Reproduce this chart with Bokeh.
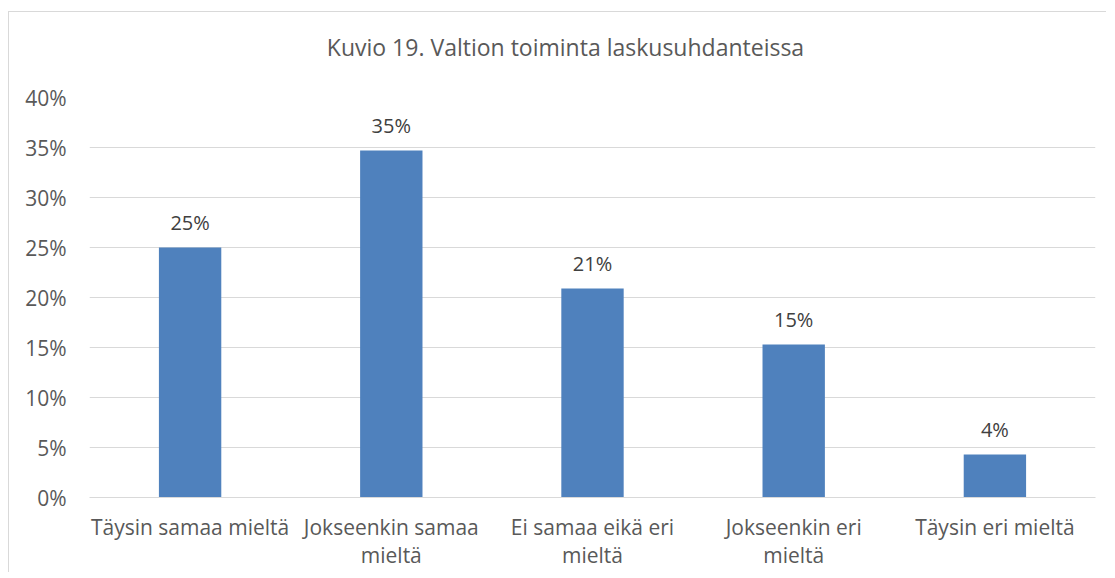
from bokeh.plotting import figure
from bokeh.models import ColumnDataSource, FactorRange, Range1d, NumeralTickFormatter, SingleIntervalTicker, LabelSet, Div
from bokeh.layouts import column
from bokeh.core.properties import value
from bokeh.embed import file_html
from bokeh.resources import INLINE

title_text = "Kuvio 19. Valtion toiminta laskusuhdanteissa"
categories = ["Täysin samaa mieltä", "Jokseenkin samaa\nmieltä", "Ei samaa eikä eri\nmieltä",
              "Jokseenkin eri\nmieltä", "Täysin eri mieltä"]
values = [0.250, 0.347, 0.209, 0.153, 0.043]
value_labels = ["25%", "35%", "21%", "15%", "4%"]

FONT = "Open Sans"
TEXT = "#595959"
GRID = "#D9D9D9"
BAR = "#4F81BD"

src = ColumnDataSource(dict(cat=categories, val=values, lab=value_labels))

title_div = Div(
    text=('<div style="padding-top:19px; padding-left:16px; box-sizing:border-box; text-align:center; '
          'font-family:\'Open Sans\'; font-size:23px; line-height:normal; color:#595959; width:1097px;">'
          + title_text + '</div>'),
    width=1097, height=50,
    styles={"margin": "0", "padding": "0"},
)

p = figure(
    x_range=FactorRange(*categories, range_padding=0),
    y_range=Range1d(0, 0.40),
    width=1097, height=510,
    output_backend="svg", toolbar_location=None,
    min_border_left=80, min_border_right=11, min_border_top=35, min_border_bottom=75,
    background_fill_color="white", border_fill_color="white",
)
p.outline_line_color = None

p.vbar(x="cat", top="val", width=0.31, source=src, fill_color=BAR, line_color=None)

labels = LabelSet(x="cat", y="val", text="lab", source=src, text_align="center",
                  text_baseline="bottom", y_offset=12, text_font=value(FONT),
                  text_font_size="20px", text_color="#404040")
p.add_layout(labels)

p.yaxis.ticker = SingleIntervalTicker(interval=0.05)
p.yaxis.formatter = NumeralTickFormatter(format="0%")
p.yaxis.axis_line_color = None
p.yaxis.major_tick_line_color = None
p.yaxis.minor_tick_line_color = None
p.yaxis.major_label_text_font = FONT
p.yaxis.major_label_text_font_size = "21px"
p.yaxis.major_label_text_color = TEXT
p.yaxis.major_label_standoff = 17

p.xaxis.axis_line_color = GRID
p.xaxis.axis_line_width = 1
p.xaxis.major_tick_line_color = None
p.xaxis.minor_tick_line_color = None
p.xaxis.major_label_text_font = FONT
p.xaxis.major_label_text_font_size = "21px"
p.xaxis.major_label_text_color = TEXT
p.xaxis.major_label_text_line_height = 1.03
p.xaxis.major_label_standoff = 9
p.xaxis.major_label_orientation = "horizontal"

p.xgrid.grid_line_color = None
p.ygrid.grid_line_color = GRID
p.ygrid.grid_line_width = 1

layout = column(title_div, p, spacing=0)
layout.styles = {"margin-top": "11px", "margin-left": "8px",
                 "border-left": "1px solid #D9D9D9", "border-top": "1px solid #D9D9D9",
                 "background-color": "white"}

open("out.html", "w").write(file_html(layout, INLINE))
